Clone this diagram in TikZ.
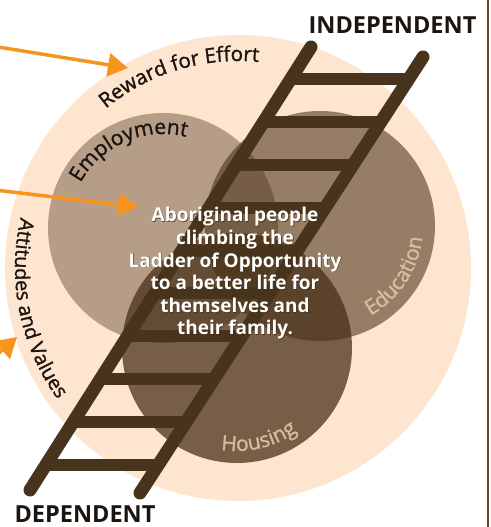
\documentclass[tikz,border=0pt]{standalone}
\usepackage{fontspec}
\setmainfont{Open Sans}
\newfontfamily\semib[FakeBold=1.2]{Open Sans}
\usetikzlibrary{decorations.text, arrows.meta, calc}

\definecolor{peach}{RGB}{253,229,208}
\definecolor{cbrown}{RGB}{70,45,20}
\definecolor{ladderbrown}{RGB}{72,52,28}
\definecolor{arroworange}{RGB}{247,148,29}
\definecolor{lighttan}{RGB}{214,190,154}
\definecolor{inkdark}{RGB}{28,20,14}
\definecolor{framebrown}{RGB}{105,72,34}

\begin{document}
\begin{tikzpicture}[x=1pt,y=1pt,
  disc/.style={circle, inner sep=0pt, minimum size=#1, draw=none},
  rail/.style={draw=ladderbrown, line width=13pt, line cap=round},
  rungbar/.style={draw=ladderbrown, line width=12pt},
  pointer/.style={draw=arroworange, fill=arroworange, line width=3.5pt, -{Triangle[length=20pt,width=23pt]}},
  endlabel/.style={font=\fontsize{23.5}{23.5}\selectfont\bfseries, text=inkdark, inner sep=0pt},
  curvetext/.style n args={3}{decorate, decoration={text along path, text={|\semib\fontsize{#2}{#2}\selectfont|#1}, text align=center, text color=#3}}
]
\useasboundingbox (0,0) rectangle (490,527);
\clip (0,0) rectangle (490,527);

% circles
\node[disc=466pt, fill=peach] (outer) at (238,259) {};
\node[disc=230pt, fill=cbrown, fill opacity=0.39] (emp) at (163,299) {};
\node[disc=230pt, fill=cbrown, fill opacity=0.56] (edu) at (320,301) {};
\node[disc=230pt, fill=cbrown, fill opacity=0.73] (hous) at (237,179) {};

% curved labels
\path[curvetext={Reward for Effort}{20.5}{inkdark}] (outer.center) ++(150:207) arc[start angle=150, end angle=64, radius=207];
\path[curvetext={Attitudes and Values}{20}{inkdark}] (outer.center) ++(148:223) arc[start angle=148, end angle=235, radius=223];
\path[curvetext={Employment}{21}{inkdark}] (emp.center) ++(172:94) arc[start angle=172, end angle=55, radius=94];
\path[curvetext={Education}{21}{lighttan}] (edu.center) ++(-84:103) arc[start angle=-84, end angle=17, radius=103];
\path[curvetext={Housing}{21}{lighttan}] (hous.center) ++(-124:103) arc[start angle=-124, end angle=-29, radius=103];

% ladder
\coordinate (lt) at (311,480);
\coordinate (lb) at (30,37);
\coordinate (rt) at (423,470);
\coordinate (rb) at (140,34);
\foreach \Y in {448,405.1,362.2,319.3,276.4,233.6,190.7,147.8,104.9,62} {
  \pgfmathsetmacro\xl{30+(\Y-37)/443*281}
  \pgfmathsetmacro\xr{140+(\Y-34)/436*283}
  \draw[rungbar] (\xl,\Y) -- (\xr,\Y);
}
\draw[rail] (lt) -- (lb);
\draw[rail] (rt) -- (rb);

% centre text
\node[align=center, text=cbrown, text opacity=0.75, font=\fontsize{19}{22.6}\selectfont\bfseries] (msgshadow) at (235.8,252.7) {Aboriginal people\\climbing the\\Ladder of Opportunity\\to a better life for\\themselves and\\their family.};
\node[align=center, text=white, font=\fontsize{19}{22.6}\selectfont\bfseries] (msg) at (235,253.5) {Aboriginal people\\climbing the\\Ladder of Opportunity\\to a better life for\\themselves and\\their family.};

% arrows
\coordinate (a1s) at (-5,480.5);
\coordinate (a1t) at (128,459);
\coordinate (a2s) at (-5,337);
\coordinate (a2t) at (138,320);
\coordinate (a3s) at (-45,135);
\coordinate (a3t) at (17,190);
\draw[pointer] (a1s) -- (a1t);
\draw[pointer] (a2s) -- (a2t);
\draw[pointer] (a3s) -- (a3t);

% end labels
\node[endlabel] (indep) at (392.5,502) {INDEPENDENT};
\node[endlabel] (dep) at (85,12.5) {DEPENDENT};

% right frame line
\coordinate (ft) at (488,527);
\coordinate (fb) at (488,0);
\draw[framebrown, line width=2pt] (ft) -- (fb);
\end{tikzpicture}
\end{document}
